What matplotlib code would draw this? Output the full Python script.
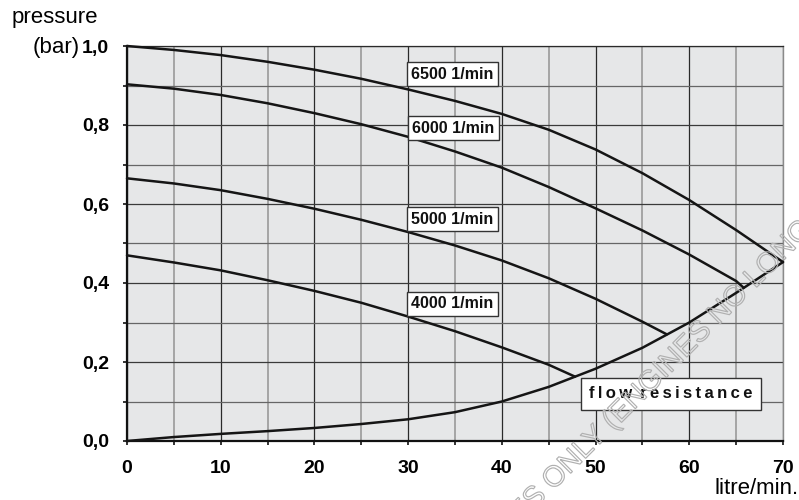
import matplotlib
matplotlib.use('Agg')
import matplotlib.pyplot as plt
import matplotlib.patheffects as pe
from matplotlib.ticker import MultipleLocator, FixedLocator

plt.rcParams['font.family'] = ['Liberation Sans', 'DejaVu Sans']

# pump curves (litre/min -> bar)
rpm6500_x = [0, 5, 10, 15, 20, 25, 30, 35, 40, 45, 50, 55, 60, 65, 70]
rpm6500_y = [1.0, 0.99, 0.977, 0.96, 0.94, 0.917, 0.89, 0.861, 0.828, 0.788, 0.738, 0.678, 0.61, 0.534, 0.453]

rpm6000_x = [0, 5, 10, 15, 20, 25, 30, 35, 40, 45, 50, 55, 60, 65, 65.8]
rpm6000_y = [0.903, 0.892, 0.876, 0.855, 0.83, 0.802, 0.77, 0.733, 0.692, 0.643, 0.589, 0.533, 0.472, 0.405, 0.388]

rpm5000_x = [0, 5, 10, 15, 20, 25, 30, 35, 40, 45, 50, 55, 57.6]
rpm5000_y = [0.665, 0.652, 0.635, 0.613, 0.588, 0.56, 0.529, 0.495, 0.457, 0.412, 0.36, 0.302, 0.27]

rpm4000_x = [0, 5, 10, 15, 20, 25, 30, 35, 40, 45, 47.8]
rpm4000_y = [0.47, 0.452, 0.432, 0.407, 0.38, 0.35, 0.315, 0.278, 0.237, 0.193, 0.163]

flow_x = [0, 5, 10, 15, 20, 25, 30, 35, 40, 45, 50, 55, 60, 65, 70]
flow_y = [0, 0.01, 0.018, 0.025, 0.033, 0.043, 0.055, 0.073, 0.10, 0.137, 0.183, 0.236, 0.30, 0.375, 0.453]

curve_labels = ['6500 1/min', '6000 1/min', '5000 1/min', '4000 1/min']
label_pos = [(34.7, 0.928), (34.8, 0.792), (34.7, 0.561), (34.7, 0.347)]

x_ticks = [0, 10, 20, 30, 40, 50, 60, 70]
y_ticks = [0.0, 0.2, 0.4, 0.6, 0.8, 1.0]
y_ticklabels = ['0,0', '0,2', '0,4', '0,6', '0,8', '1,0']

W, H = 799, 500
fig = plt.figure(figsize=(W / 100, H / 100), dpi=100)
ax = fig.add_axes([127 / W, 59 / H, 656 / W, 395 / H])
ax.set_facecolor('#e6e7e8')
ax.set_xlim(0, 70)
ax.set_ylim(0, 1.0)

# grid
ax.xaxis.set_major_locator(FixedLocator(x_ticks))
ax.xaxis.set_minor_locator(MultipleLocator(5))
ax.yaxis.set_major_locator(FixedLocator(y_ticks))
ax.yaxis.set_minor_locator(MultipleLocator(0.1))
ax.grid(axis='x', which='major', color='#2a2a2a', linewidth=0.9)
ax.grid(axis='x', which='minor', color='#939393', linewidth=1.1)
ax.grid(axis='y', which='major', color='#3a3a3a', linewidth=0.9)
ax.grid(axis='y', which='minor', color='#666666', linewidth=0.9)
ax.set_axisbelow(True)

ax.set_xticklabels([str(v) for v in x_ticks], fontsize=14, fontweight='bold')
ax.set_yticklabels(y_ticklabels, fontsize=14, fontweight='bold')
ax.tick_params(which='both', direction='out', length=3, width=1.2, color='#111111')
ax.tick_params(axis='x', which='both', pad=11)
ax.tick_params(axis='y', which='both', pad=10)

for s in ['left', 'bottom']:
    ax.spines[s].set_linewidth(1.6)
    ax.spines[s].set_color('#111111')
ax.spines['top'].set_linewidth(0.9)
ax.spines['top'].set_color('#2a2a2a')
ax.spines['right'].set_linewidth(1.0)
ax.spines['right'].set_color('#8a8a8a')

# curves
curves = [(rpm6500_x, rpm6500_y), (rpm6000_x, rpm6000_y),
          (rpm5000_x, rpm5000_y), (rpm4000_x, rpm4000_y), (flow_x, flow_y)]
for cx, cy in curves:
    ax.plot(cx, cy, '-', color='#151515', linewidth=1.8, clip_on=False, zorder=3,
            solid_capstyle='round', solid_joinstyle='round')

box = dict(boxstyle='square,pad=0.28', facecolor='white', edgecolor='#333333', linewidth=1.0)
for lab, (lx, ly) in zip(curve_labels, label_pos):
    ax.text(lx, ly, lab, fontsize=11.5, fontweight='bold', ha='center', va='center',
            color='#111111', bbox=box, zorder=5)

# letter-spaced label
ts = '\u2009'
flow_label = ts.join('flow') + ' ' + ts + ts.join('resistance')
box2 = dict(boxstyle='square,pad=0.5', facecolor='white', edgecolor='#333333', linewidth=1.0)
ax.text(58.05, 0.119, flow_label, fontsize=12, fontweight='bold',
        ha='center', va='center', color='#111111', bbox=box2, zorder=5)

# axis titles
fig.text(98 / W, 1 - 17 / H, 'pressure', fontsize=16, ha='right', va='center')
fig.text(80 / W, 1 - 47 / H, '(bar)', fontsize=16, ha='right', va='center')
fig.text(1.0, 1 - 489 / H, 'litre/min.', fontsize=16, ha='right', va='center')

# faint outlined watermark
wm = pe.PathPatchEffect(edgecolor='#b0b0b0', facecolor='none', linewidth=0.85)
fig.text(553 / W, 1 - 491 / H, 'ONLY (ENGINES NO LONGER PRODUCED)', fontsize=21,
         rotation=45, rotation_mode='anchor', ha='left', va='baseline',
         color='none', path_effects=[wm], zorder=10)
fig.text(547 / W, 1 - 497 / H, 'FOR REFERENCE PURPOSES', fontsize=21,
         rotation=45, rotation_mode='anchor', ha='right', va='baseline',
         color='none', path_effects=[wm], zorder=10)

fig.savefig('out.png', dpi=100)
